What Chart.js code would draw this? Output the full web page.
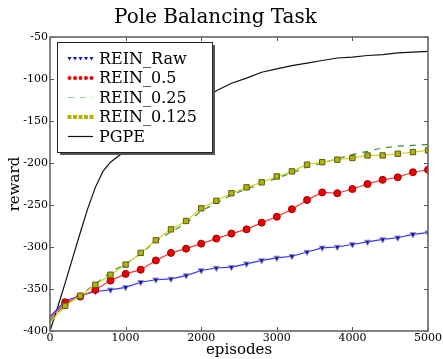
<!DOCTYPE html>
<html>
<head>
<meta charset="utf-8">
<script src="https://cdn.jsdelivr.net/npm/chart.js@4.4.1/dist/chart.umd.min.js"></script>
<style>
  body { margin: 0; background: #fff; }
  #wrap { width: 443px; height: 359px; }
</style>
</head>
<body>
<div id="wrap"><canvas id="chart" width="443" height="359"></canvas></div>
<script>
// --- data ---
const episodes = [0, 200, 400, 600, 800, 1000, 1200, 1400, 1600, 1800, 2000, 2200, 2400,
  2600, 2800, 3000, 3200, 3400, 3600, 3800, 4000, 4200, 4400, 4600, 4800, 5000];
const reinRaw = [-383, -364, -358, -353, -351, -348, -342, -339, -338, -334, -328, -325, -324,
  -320, -316, -313, -311, -306, -301, -300, -297, -294, -291, -289, -285, -283];
const rein05 = [-385, -366, -359, -351, -340, -332, -327, -316, -307, -302, -296, -290, -284,
  -279, -271, -264, -255, -244, -235, -236, -231, -225, -220, -217, -211, -208];
const rein025 = [-388, -368, -357, -344, -330, -320, -308, -293, -282, -272, -257, -248, -238,
  -231, -225, -218, -212, -205, -200, -195, -190, -186, -182, -180, -179, -178];
const rein0125 = [-390, -370, -358, -345, -333, -321, -307, -292, -279, -269, -254, -245, -236,
  -229, -223, -216, -210, -202, -199, -196, -194, -191, -191, -189, -187, -185];
const pgpeEpisodes = [0, 100, 200, 300, 400, 500, 600, 700, 800, 900, 1000, 1200, 1400, 1600,
  1800, 2000, 2200, 2400, 2600, 2800, 3000, 3200, 3400, 3600, 3800, 4000, 4200, 4400, 4600, 4800, 5000];
const pgpe = [-400, -372, -343, -313, -283, -254, -229, -210, -199, -192, -186, -172, -158, -145,
  -135, -126, -114, -105, -99, -92, -88, -84, -81, -78, -75, -74, -72, -71, -69, -68, -67];
const xTicks = [0, 1000, 2000, 3000, 4000, 5000];
const yTicks = [-50, -100, -150, -200, -250, -300, -350, -400];

const serif = '"DejaVu Serif", "Liberation Serif", serif';

function pts(xs, ys) {
  return xs.map((x, i) => ({ x: x, y: ys[i] }));
}
// no marker on the first sample
const skipFirst = (r) => (ctx) => (ctx.dataIndex === 0 ? 0 : r);

const seriesStyle = [
  { label: "REIN_Raw", line: "#3333ff", fill: "#1010c8", edge: "#9a9aaa", marker: "triangle", rot: 180, dash: [] },
  { label: "REIN_0.5", line: "#ff3333", fill: "#ee0000", edge: "#990000", marker: "circle", rot: 0, dash: [] },
  { label: "REIN_0.25", line: "#2f8f2f", fill: "#2f8f2f", edge: "#2f8f2f", marker: false, rot: 0, dash: [6, 6] },
  { label: "REIN_0.125", line: "#d4d420", fill: "#b4b400", edge: "#5a5a20", marker: "rect", rot: 0, dash: [] },
  { label: "PGPE", line: "#111111", fill: "#111", edge: "#111", marker: false, rot: 0, dash: [] },
];

// --- legend drawn inside the plot, matplotlib style ---
const boxLegend = {
  id: "boxLegend",
  afterDraw(chart) {
    const ctx = chart.ctx;
    const x0 = 57, y0 = 42, w = 155, h = 110;
    ctx.save();
    ctx.fillStyle = "#555";
    ctx.fillRect(x0 + 3, y0 + 3, w, h);
    ctx.fillStyle = "#fff";
    ctx.fillRect(x0, y0, w, h);
    ctx.strokeStyle = "#222";
    ctx.lineWidth = 1;
    ctx.strokeRect(x0 + 0.5, y0 + 0.5, w, h);
    seriesStyle.forEach((s, i) => {
      const y = 58.5 + i * 19.5;
      const lx0 = 68, lx1 = 93;
      if (s.marker) {
        for (let k = 0; k < 5; k++) {
          const mx = lx0 + 1.5 + k * 5.5;
          ctx.fillStyle = s.fill;
          if (s.marker === "triangle") {
            ctx.beginPath();
            ctx.moveTo(mx - 2, y - 1.5);
            ctx.lineTo(mx + 2, y - 1.5);
            ctx.lineTo(mx, y + 2);
            ctx.closePath();
            ctx.fill();
          } else if (s.marker === "circle") {
            ctx.beginPath();
            ctx.arc(mx, y, 2, 0, Math.PI * 2);
            ctx.fill();
          } else {
            ctx.fillRect(mx - 2, y - 2, 4, 4);
          }
        }
      } else {
        ctx.strokeStyle = s.label === "PGPE" ? "#111" : "#8fd88f";
        ctx.lineWidth = 1.2;
        ctx.setLineDash(s.dash);
        ctx.beginPath();
        ctx.moveTo(lx0, y);
        ctx.lineTo(lx1, y);
        ctx.stroke();
        ctx.setLineDash([]);
      }
      ctx.fillStyle = "#000";
      ctx.font = "16px " + serif;
      ctx.textBaseline = "middle";
      ctx.textAlign = "left";
      ctx.fillText(s.label, 99, y + 1);
    });
    ctx.restore();
  },
};

// --- frame and inward ticks on all four sides ---
const frameTicks = {
  id: "frameTicks",
  afterDatasetsDraw(chart) {
    const { ctx, chartArea: a, scales } = chart;
    ctx.save();
    ctx.strokeStyle = "#555";
    ctx.lineWidth = 1;
    ctx.beginPath();
    xTicks.forEach((v) => {
      const px = Math.round(scales.x.getPixelForValue(v)) + 0.5;
      ctx.moveTo(px, a.bottom); ctx.lineTo(px, a.bottom - 4);
      ctx.moveTo(px, a.top); ctx.lineTo(px, a.top + 4);
    });
    yTicks.forEach((v) => {
      const py = Math.round(scales.y.getPixelForValue(v)) + 0.5;
      ctx.moveTo(a.left, py); ctx.lineTo(a.left + 4, py);
      ctx.moveTo(a.right, py); ctx.lineTo(a.right - 4, py);
    });
    ctx.stroke();
    ctx.lineWidth = 1.6;
    ctx.strokeStyle = "#666";
    ctx.strokeRect(a.left, a.top, a.right - a.left, a.bottom - a.top);
    ctx.restore();
  },
};

const allSeries = [reinRaw, rein05, rein025, rein0125];
const drawOrder = [3, 2, 4, 1, 5];
const datasets = seriesStyle.map((s, i) => {
  const isPgpe = s.label === "PGPE";
  return {
    label: s.label,
    data: isPgpe ? pts(pgpeEpisodes, pgpe) : pts(episodes, allSeries[i]),
    borderColor: s.line,
    borderWidth: 1.2,
    borderDash: s.dash,
    backgroundColor: s.fill,
    pointBackgroundColor: s.fill,
    pointBorderColor: s.edge,
    pointBorderWidth: 1,
    pointStyle: s.marker || "circle",
    pointRotation: s.rot,
    pointRadius: s.marker ? skipFirst(s.marker === "rect" ? 3.8 : 3.5) : 0,
    tension: 0,
    fill: false,
    order: drawOrder[i],
  };
});

new Chart(document.getElementById("chart"), {
  type: "line",
  data: { datasets: datasets },
  options: {
    responsive: false,
    animation: false,
    events: [],
    layout: { padding: { left: 0, right: 12, top: 0, bottom: 0 } },
    plugins: {
      legend: { display: false },
      tooltip: { enabled: false },
      title: {
        display: true,
        text: "Pole Balancing Task",
        color: "#000",
        font: { family: serif, size: 20, weight: "normal" },
        padding: { top: 6, bottom: 7 },
      },
    },
    scales: {
      x: {
        type: "linear",
        min: 0,
        max: 5000,
        afterFit: (s) => { s.height = 28; },
        afterBuildTicks: (s) => { s.ticks = xTicks.map((v) => ({ value: v })); },
        grid: { display: false, drawTicks: false },
        border: { display: false },
        ticks: {
          color: "#000",
          font: { family: serif, size: 11 },
          padding: 1,
          maxRotation: 0,
          callback: (v) => String(v),
        },
        title: {
          display: true,
          text: "episodes",
          color: "#000",
          font: { family: serif, size: 15 },
          padding: { top: 0, bottom: 0 },
        },
      },
      y: {
        min: -400,
        max: -50,
        afterFit: (s) => { s.width = 50; },
        afterBuildTicks: (s) => { s.ticks = yTicks.map((v) => ({ value: v })); },
        grid: { display: false, drawTicks: false },
        border: { display: false },
        ticks: { color: "#000", font: { family: serif, size: 11 }, padding: 2, callback: (v) => String(v) },
        title: {
          display: true,
          text: "reward",
          color: "#000",
          font: { family: serif, size: 15 },
          padding: { top: 6, bottom: 0 },
        },
      },
    },
  },
  plugins: [frameTicks, boxLegend],
});
</script>
</body>
</html>
